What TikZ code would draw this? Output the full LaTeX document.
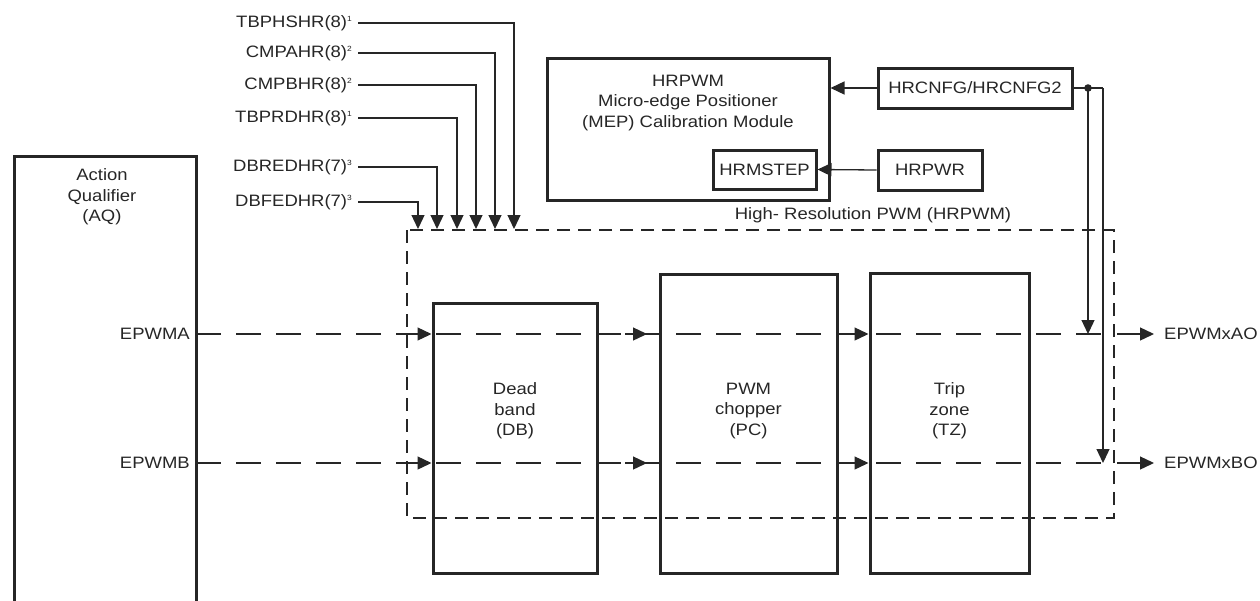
\documentclass[tikz,border=0pt]{standalone}
\usepackage{fontspec}
\setmainfont{Liberation Sans}[FakeStretch=1.12]
\usetikzlibrary{arrows.meta}
\newcommand{\sups}[1]{\raisebox{6pt}{\fontsize{7.5}{7.5}\selectfont #1}}
\begin{document}
\begin{tikzpicture}[x=1pt,y=-1pt,
  font=\fontsize{16.5}{20.5}\selectfont,
  every node/.style={text=black!85},
  tbox/.style={draw=black!85, line width=3pt, inner sep=0pt},
  sbox/.style={draw=black!85, line width=3pt, inner sep=0pt, minimum height=40pt},
  wire/.style={line width=1.3pt, draw=black!85},
  sig/.style={wire, dash pattern=on 25pt off 15pt},
  hrbox/.style={line width=1.3pt, draw=black!85, dash pattern=on 13pt off 8pt},
  arr/.style={-{Triangle[length=14pt,width=13pt]}},
  regl/.style={anchor=east, inner sep=0pt},
  txt/.style={align=center, inner sep=0pt}]
\useasboundingbox (0,0) rectangle (1260,600);

% main boxes
\draw[tbox] (14,156) rectangle (196,640);
\coordinate (aqe) at (196,334);
\coordinate (aqeb) at (196,463);
\node[txt] (aqt) at (102,197) {Action\\Qualifier\\(AQ)};
\node[tbox, minimum width=164pt, minimum height=270pt] (db) at (515,438) {};
\node[txt] (dbt) at (515,411) {Dead\\band\\(DB)};
\node[tbox, minimum width=177pt, minimum height=299pt] (pc) at (748.5,423.5) {};
\node[txt] (pct) at (748.5,411) {PWM\\chopper\\(PC)};
\node[tbox, minimum width=159pt, minimum height=300pt] (tz) at (949.5,423) {};
\node[txt] (tzt) at (949.5,411) {Trip\\zone\\(TZ)};

% MEP
\node[tbox, minimum width=282pt, minimum height=142pt] (mep) at (688,129) {};
\node[txt] (mept) at (688,103) {HRPWM\\Micro-edge Positioner\\(MEP) Calibration Module};
\node[sbox, minimum width=103pt, minimum height=39pt] (hrms) at (764.5,169.5) {HRMSTEP};
\node[sbox, minimum width=194pt] (hrcfg) at (975,88) {HRCNFG/HRCNFG2};
\node[sbox, minimum width=104pt] (hrpwr) at (930,170) {HRPWR};
\draw[wire, arr] (hrcfg.west) -- (hrcfg.west -| mep.east);
\draw[wire, arr] (hrpwr.west) -- (hrms.east);

% HRPWM dashed region
\draw[hrbox] (407,230) rectangle (1114,518);
\node[inner sep=0pt] (hrl) at (873,215) {High- Resolution PWM (HRPWM)};

% signals
\node[regl] (epa) at (190,334) {EPWMA};
\node[regl] (epb) at (190,463) {EPWMB};
\coordinate (enda) at (1102,334);
\coordinate (endb) at (1102,463);
\draw[sig] (aqe) -- (enda);
\draw[sig] (aqeb) -- (endb);
\foreach \yy/\n in {334/a,463/b}{
  \draw[wire, arr] (412,\yy) -- (db.west |- 0,\yy);
  \draw[wire, arr] (625,\yy) -- (647,\yy);
  \draw[wire, arr] (848,\yy) -- (tz.west |- 0,\yy);
}
\node[anchor=west, inner sep=0pt] (oa) at (1164,334) {EPWMxAO};
\node[anchor=west, inner sep=0pt] (ob) at (1164,463) {EPWMxBO};
\draw[wire, arr] (1117,334) -- ([xshift=-10pt]oa.west);
\draw[wire, arr] (1117,463) -- ([xshift=-10pt]ob.west);

% HRCNFG distribution
\coordinate (dot) at (1088,88);
\coordinate (cr) at (1103,88);
\draw[wire] (hrcfg.east) -- (cr);
\fill[black!85] (dot) circle (3.8pt);
\draw[wire, arr] (dot) -- (dot |- enda);
\draw[wire, arr] (cr) -- (cr |- endb);

% register inputs
\foreach \nm/\lab/\s/\yy/\xx in {
  r1/TBPHSHR(8)/1/23/514,
  r2/CMPAHR(8)/2/53/495,
  r3/CMPBHR(8)/2/85/476,
  r4/TBPRDHR(8)/1/118/457,
  r5/DBREDHR(7)/3/167/437,
  r6/DBFEDHR(7)/3/202/418}{
  \node[regl] (\nm) at (352,\yy) {\lab\sups{\s}};
  \draw[wire, arr] (\nm.east) ++(6,0) -- (\xx,\yy) -- (\xx,229);
}
\end{tikzpicture}
\end{document}
